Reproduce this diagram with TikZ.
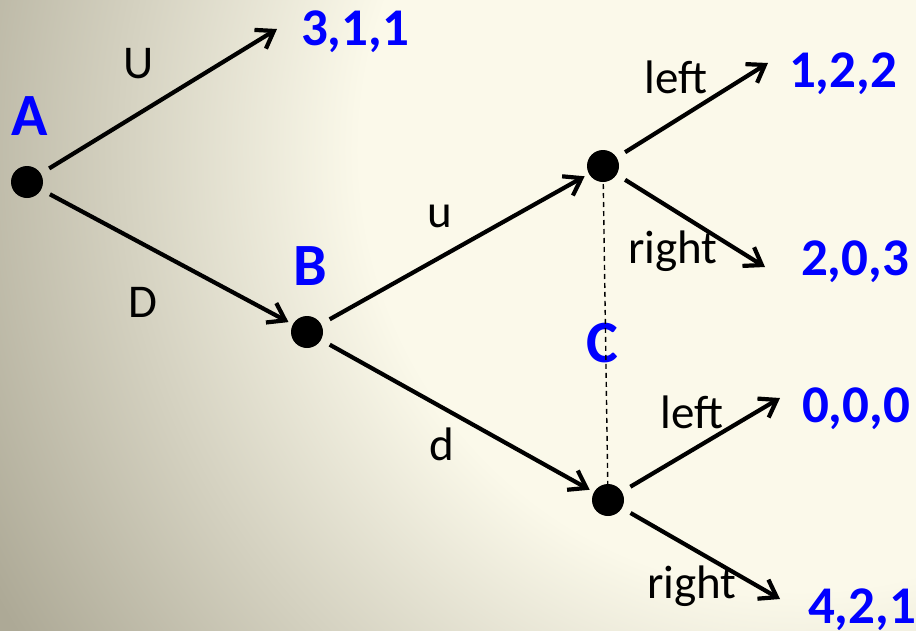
\documentclass[tikz,border=0pt]{standalone}
\usepackage{fontspec}
\setmainfont{Carlito}
\usetikzlibrary{arrows.meta}
\definecolor{bgcream}{HTML}{FBF9EA}
\definecolor{bggray}{HTML}{ADA996}
\definecolor{payblue}{HTML}{0000FF}
\pgfdeclareradialshading{bgshade}{\pgfpoint{0bp}{0bp}}{color(0bp)=(bgcream); color(11bp)=(bgcream); color(23bp)=(bggray); color(25bp)=(bggray); color(50bp)=(bggray)}
\tikzset{
  >={Straight Barb[length=16pt,width=22pt]},
  dot/.style={fill=black, circle, minimum size=32pt, inner sep=0pt, outer sep=5pt},
  player/.style={text=payblue, font=\fontsize{60}{60}\selectfont\bfseries, anchor=base},
  payoff/.style={text=payblue, font=\fontsize{53}{53}\selectfont\bfseries, anchor=base},
  move/.style={font=\fontsize{47}{47}\selectfont, anchor=base},
}

\begin{document}
\begin{tikzpicture}[x=1pt, y=-1pt, line width=4.2pt]
    \useasboundingbox (0,0) rectangle (916,630);
    \fill[bggray] (0,0) rectangle (916,630);
    \begin{scope}
      \clip (0,0) rectangle (916,630);
      \shade[shading=bgshade] (800,150) circle (1000pt);
    \end{scope}

    \node[dot]    (A)  at (27,182)  {};
    \node[dot]    (B)  at (307,332) {};
    \node[dot]    (C1) at (603,166) {};
    \node[dot]    (C2) at (608,500) {};
    \coordinate   (t311) at (277,29);
    \coordinate   (t122) at (768,63);
    \coordinate   (t203) at (765,267);
    \coordinate   (t000) at (780,398);
    \coordinate   (t421) at (780,599);

    \node[player] (nA) at (30,135)  {A};
    \node[player] (nB) at (310,285) {B};
    \node[player] (nC) at (602,362) {C};

    \node[payoff] (p311) at (355,45)  {3,1,1};
    \node[payoff] (p122) at (843,87)  {1,2,2};
    \node[payoff] (p203) at (855,275) {2,0,3};
    \node[payoff] (p000) at (856,422) {0,0,0};
    \node[payoff] (p421) at (862,623) {4,2,1};

    \node[move]   (mU)  at (139,78)  {U};
    \node[move]   (mD)  at (143,317) {D};
    \node[move]   (mu)  at (440,227) {u};
    \node[move]   (md)  at (442,460) {d};
    \node[move]   (mL1) at (676,93)  {left};
    \node[move]   (mR1) at (673,263) {right};
    \node[move]   (mL2) at (692,428) {left};
    \node[move]   (mR2) at (692,598) {right};

    \draw[dashed, line width=1.4pt, dash pattern=on 5pt off 4pt] (C1.center) -- (C2.center);
    \path[->, shorten <=5pt]
      (A)  edge (t311)
      (A)  edge (B)
      (B)  edge (C1)
      (B)  edge (C2)
      (C1) edge (t122)
      (C1) edge (t203)
      (C2) edge (t000)
      (C2) edge (t421);
  \end{tikzpicture}
\end{document}
